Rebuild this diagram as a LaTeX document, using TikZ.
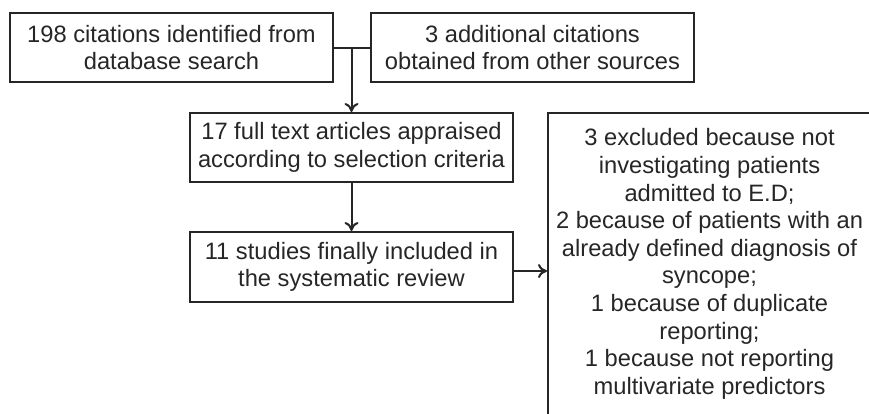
\documentclass[tikz,border=0pt]{standalone}
\usepackage{fontspec}
\setmainfont{Liberation Sans}
\usetikzlibrary{arrows.meta}

\begin{document}
\begin{tikzpicture}[x=1pt, y=-1pt,
	box/.style={draw=black!85, line width=2pt, text=black!85, minimum width=323pt, minimum height=69pt, inner sep=0pt, align=center, font=\fontsize{23.7}{27.6}\selectfont},
	link/.style={draw=black!85, line width=2pt},
	arrowlink/.style={link, -{To[length=9pt,width=14pt]}}]
				\useasboundingbox (0,0) rectangle (869,413);
				\clip (0,0) rectangle (869,413);
				\node[box] (search) at (171.5,47.5) {198 citations identified from\\database search};
				\node[box] (other) at (532.5,47.5) {3 additional citations\\obtained from other sources};
				\node[box] (appraised) at (351.5,147.5) {17 full text articles appraised\\according to selection criteria};
				\node[box, minimum height=70pt] (included) at (351.5,267) {11 studies finally included in\\the systematic review};
				\node[box, minimum height=302pt] (excluded) at (709.5,264) {3 excluded because not\\investigating patients\\admitted to E.D;\\2 because of patients with an\\already defined diagnosis of\\syncope;\\1 because of duplicate\\reporting;\\1 because not reporting\\multivariate predictors};
				\coordinate (merge) at (351.5,47.5);
				\draw[link] (search) -- (other);
				\draw[arrowlink] (merge) -- (appraised);
				\draw[arrowlink] (appraised) -- (included);
				\draw[arrowlink] ([yshift=-4pt]included.east) -- ([yshift=-4pt]included.east -| excluded.west);
			\end{tikzpicture}
\end{document}
